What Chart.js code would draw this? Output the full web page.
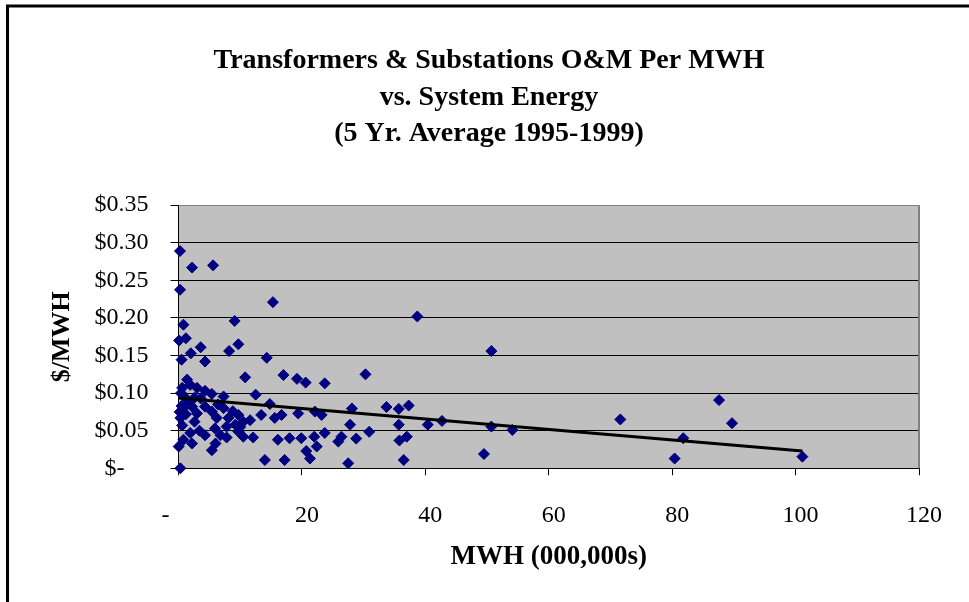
<!DOCTYPE html>
<html>
<head>
<meta charset="utf-8">
<script src="https://cdn.jsdelivr.net/npm/chart.js@4.4.1/dist/chart.umd.min.js"></script>
<style>
  html, body { margin: 0; padding: 0; background: #fff; }
  #wrap { width: 969px; height: 602px; }
</style>
</head>
<body>
<div id="wrap"><canvas id="omChart" width="969" height="602"></canvas></div>
<script>
// MWH (000,000s) and $/MWH per utility
const mwh = [
  0.24, 2.2, 5.6, 0.25, 15.3, 0.8, 9.1, 0.1, 1.2, 2.0,
  3.6, 8.2, 9.7, 0.5, 4.3, 14.3, 10.8, 17.0, 19.2, 20.6,
  23.7, 1.4, 0.6, 3.0, 4.3, 5.4, 7.3, 12.5, 1.9, 0.8,
  0.3, 2.2, 3.0, 4.3, 5.4, 6.2, 7.3, 8.1, 9.7, 10.5,
  11.6, 5.9, 7.8, 6.8, 7.8, 9.7, 10.5, 12.1, 13.4, 4.3,
  1.9, 0.8, 0.03, 2.2, 5.4, 0.3, 14.8, 15.6, 16.7, 19.4,
  22.1, 23.2, 28.1, 27.8, 16.1, 18.0, 19.9, 22.0, 23.7, 22.4,
  20.7, 21.3, 26.4, 25.9, 14.0, 17.2, 27.5, 38.7, 50.7, 30.3,
  33.7, 35.7, 37.3, 35.7, 40.4, 42.7, 50.7, 54.1, 28.8, 30.9,
  35.8, 37.0, 36.5, 49.5, 71.6, 87.6, 89.7, 81.8, 80.4, 101.1,
  0.4, 1.0, 1.6, 2.6, 0.5, 1.2, 0.2, 2.6, 3.6, 6.4,
  8.8, 9.2, 10.0, 6.0, 3.4, 0.6
];
const costPerMwh = [
  0.289, 0.267, 0.270, 0.2375, 0.221, 0.191, 0.196, 0.170, 0.173, 0.153,
  0.161, 0.156, 0.165, 0.1445, 0.142, 0.147, 0.121, 0.124, 0.119, 0.114,
  0.113, 0.118, 0.107, 0.107, 0.103, 0.099, 0.0955, 0.098, 0.111, 0.080,
  0.067, 0.082, 0.073, 0.082, 0.0755, 0.067, 0.080, 0.067, 0.071, 0.062,
  0.064, 0.053, 0.0555, 0.044, 0.041, 0.049, 0.042, 0.041, 0.071, 0.044,
  0.047, 0.038, 0.029, 0.033, 0.024, 0.0, 0.0855, 0.067, 0.071, 0.073,
  0.0755, 0.071, 0.0795, 0.058, 0.038, 0.040, 0.040, 0.042, 0.047, 0.029,
  0.023, 0.013, 0.042, 0.0355, 0.011, 0.011, 0.0067, 0.202, 0.156, 0.125,
  0.0815, 0.079, 0.0835, 0.058, 0.058, 0.063, 0.0555, 0.051, 0.0395, 0.0485,
  0.037, 0.042, 0.011, 0.019, 0.065, 0.0907, 0.060, 0.040, 0.013, 0.0155,
  0.100, 0.095, 0.088, 0.094, 0.083, 0.072, 0.075, 0.062, 0.093, 0.085,
  0.076, 0.058, 0.055, 0.033, 0.050, 0.057
];
// linear trendline end points as drawn
const trendX = [0, 101.1];
const trendY = [0.0934, 0.0231];

const titleLines = ['Transformers & Substations O&M Per MWH', 'vs. System Energy', '(5 Yr. Average 1995-1999)'];
const xTickLabels = ['-      ', '20', '40', '60', '80', '100', '120'];
const yTickLabels = ['$-    ', '$0.05', '$0.10', '$0.15', '$0.20', '$0.25', '$0.30', '$0.35'];

Chart.defaults.font.family = "'Liberation Serif', 'Times New Roman', serif";
Chart.defaults.color = '#000';

const framePlugin = {
  id: 'frame',
  beforeDraw(chart) {
    const { ctx, chartArea: a } = chart;
    ctx.save();
    ctx.fillStyle = '#fff';
    ctx.fillRect(0, 0, chart.width, chart.height);
    ctx.fillStyle = '#c0c0c0';
    ctx.fillRect(a.left, a.top, a.right - a.left, a.bottom - a.top);
    ctx.restore();
  },
  beforeDatasetsDraw(chart) {
    const { ctx, chartArea: a } = chart;
    ctx.save();
    ctx.strokeStyle = '#808080';
    ctx.lineWidth = 2;
    ctx.beginPath();
    ctx.moveTo(a.right, a.top);
    ctx.lineTo(a.right, a.bottom);
    ctx.stroke();
    ctx.restore();
  },
  afterDraw(chart) {
    const ctx = chart.ctx;
    ctx.save();
    ctx.strokeStyle = '#000';
    ctx.lineWidth = 3;
    ctx.beginPath();
    ctx.moveTo(7.5, chart.height);
    ctx.lineTo(7.5, 6);
    ctx.lineTo(chart.width, 6);
    ctx.stroke();
    ctx.restore();
  }
};

new Chart(document.getElementById('omChart').getContext('2d'), {
  type: 'scatter',
  data: {
    datasets: [
      {
        label: 'Trend',
        type: 'line',
        data: trendX.map((x, i) => ({ x: x, y: trendY[i] })),
        borderColor: '#000',
        borderWidth: 3,
        pointRadius: 0,
        fill: false,
        order: 0
      },
      {
        label: '$/MWH',
        data: mwh.map((x, i) => ({ x: x, y: costPerMwh[i] })),
        backgroundColor: '#000080',
        borderColor: '#000080',
        borderWidth: 1,
        pointStyle: 'rectRot',
        pointRadius: 5.5,
        clip: false,
        order: 1
      }
    ]
  },
  options: {
    responsive: false,
    animation: false,
    layout: { padding: { left: 59, right: 50, top: 0, bottom: 0 } },
    plugins: {
      legend: { display: false },
      tooltip: { enabled: false },
      title: {
        display: true,
        text: titleLines,
        color: '#000',
        font: { size: 28, weight: 'bold', lineHeight: 1.3 },
        padding: { top: 43, bottom: 53 }
      }
    },
    scales: {
      x: {
        type: 'linear',
        min: 0,
        max: 120,
        afterFit: s => { s.height = 133.7; },
        ticks: {
          stepSize: 20,
          font: { size: 24 },
          padding: 26,
          labelOffset: 5,
          callback: (v, i) => xTickLabels[i]
        },
        grid: { drawOnChartArea: false, drawTicks: true, tickLength: 7, tickColor: '#000' },
        border: { color: '#000', width: 1 },
        title: {
          display: true,
          text: 'MWH (000,000s)',
          font: { size: 27, weight: 'bold' },
          padding: { top: 0, bottom: 29 }
        }
      },
      y: {
        min: 0,
        max: 0.35,
        afterFit: s => { s.width = 119.5; },
        ticks: {
          stepSize: 0.05,
          font: { size: 24 },
          padding: 22,
          callback: (v, i) => yTickLabels[i]
        },
        grid: {
          color: c => (c.tick && c.tick.value > 0.34 ? '#808080' : '#000'),
          lineWidth: 1,
          tickLength: 8,
          tickColor: '#000'
        },
        border: { color: '#000', width: 1 },
        title: {
          display: true,
          text: '$/MWH',
          font: { size: 26, weight: 'bold' },
          padding: { top: -12, bottom: 0 }
        }
      }
    }
  },
  plugins: [framePlugin]
});
</script>
</body>
</html>
